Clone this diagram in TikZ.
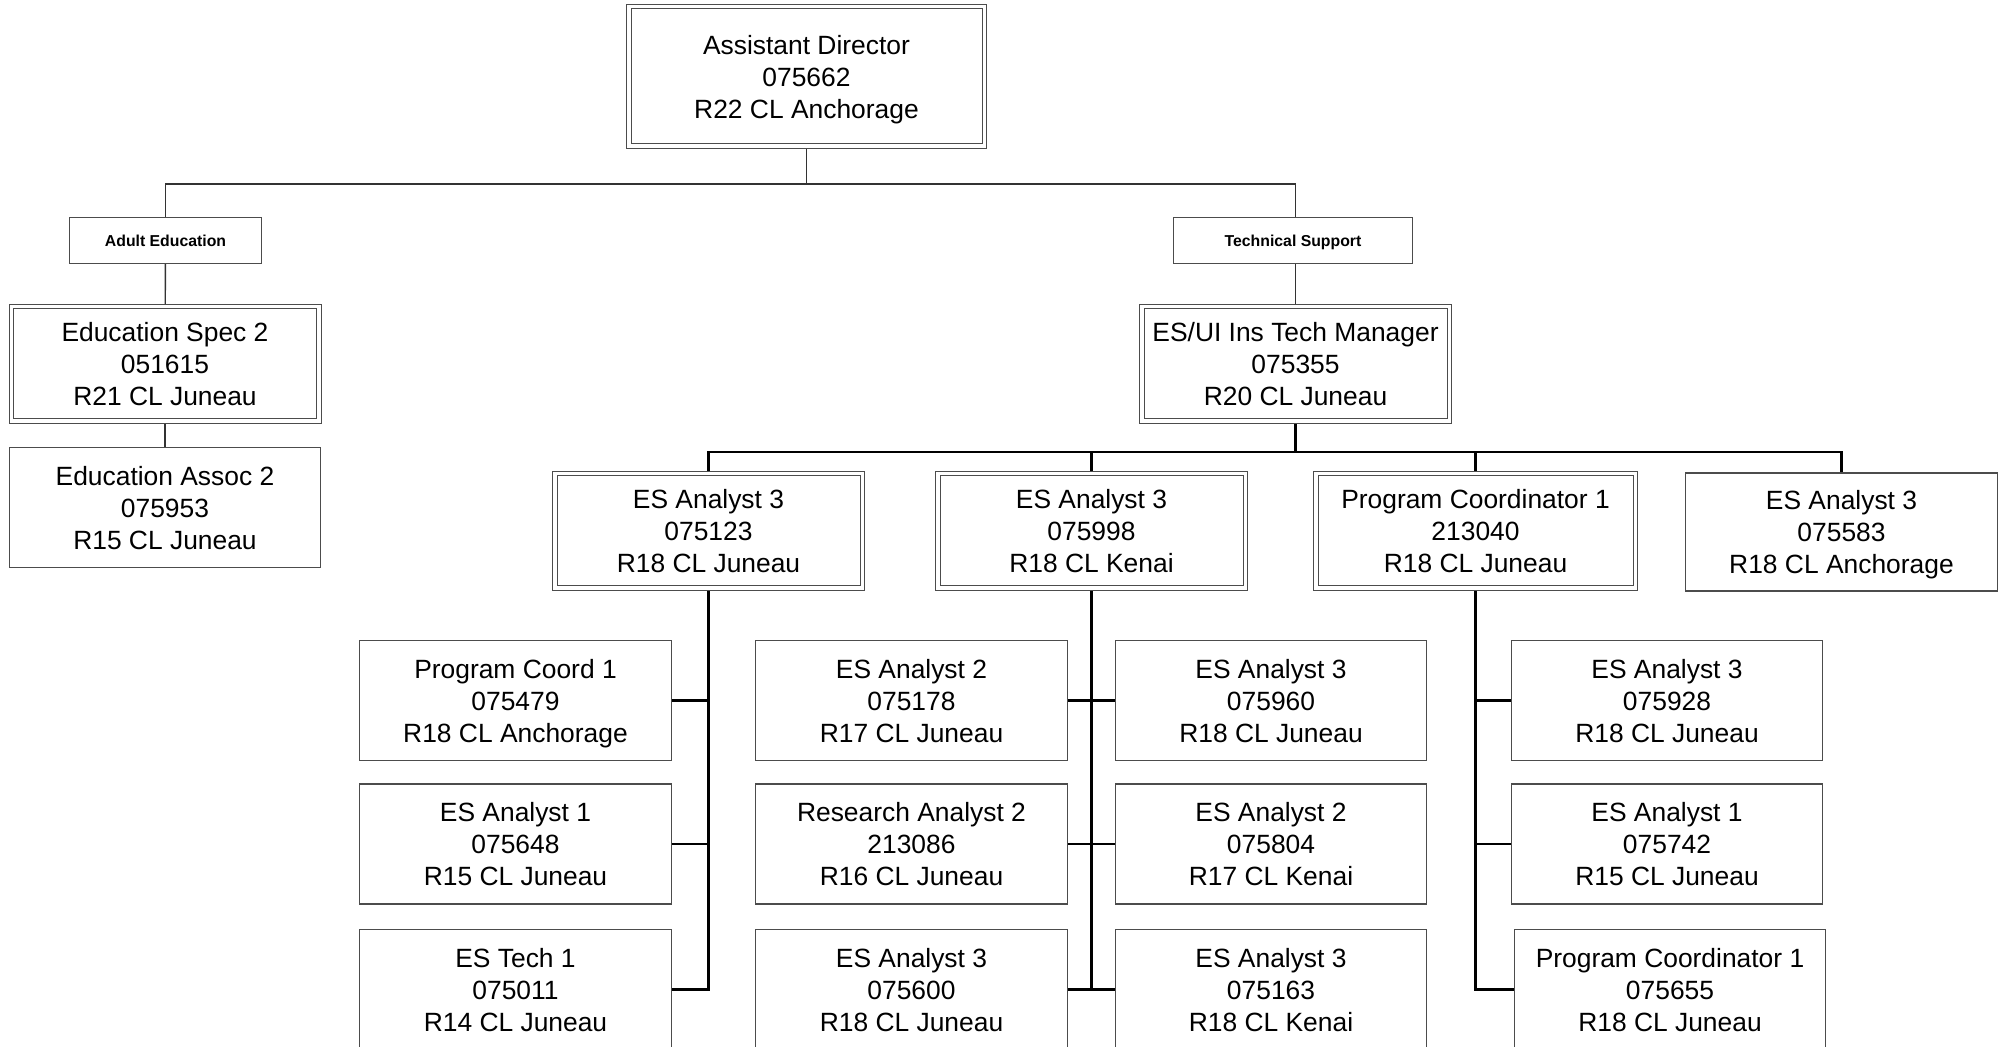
\documentclass[tikz,border=0pt]{standalone}
\usepackage{fontspec}
\setmainfont{Liberation Sans}
\usetikzlibrary{backgrounds}
\begin{document}
\begin{tikzpicture}[x=0.5pt,y=-0.5pt,
  box/.style={draw=black!70, line width=0.6pt, fill=white, inner sep=0pt, align=center,
    font=\fontsize{13.2pt}{16pt}\selectfont, minimum width=155.75pt, minimum height=60pt,
    text depth=0pt},
  dbox/.style={box, line width=0.5pt, double=white, double distance=1.75pt,
    minimum width=153.75pt, minimum height=57.25pt},
  sbox/.style={box, font=\fontsize{7.9pt}{9.5pt}\selectfont\bfseries, minimum width=96pt, minimum height=23pt,
    text height=5.66pt, text depth=0pt},
  thin/.style={draw=black!80, line width=0.7pt},
  bus/.style={draw=black, line width=1.3pt},
  grp/.style={draw=black, line width=1.1pt}]
\useasboundingbox (0,0) rectangle (2003,1047);
\clip (0,0) rectangle (2003,1047);

% level 0
\node[dbox, minimum width=177.75pt, minimum height=69.75pt] (top) at (806.5,76.5) {Assistant Director\\075662\\R22 CL Anchorage};
% units
\node[sbox] (adult) at (165.5,240.5) {Adult Education};
\node[sbox, minimum width=119.5pt] (tech) at (1293,240.5) {Technical Support};
% adult education branch
\node[dbox] (spec) at (165,364) {Education Spec 2\\051615\\R21 CL Juneau};
\node[box] (assoc) at (165,507.5) {Education Assoc 2\\075953\\R15 CL Juneau};
% technical support branch
\node[dbox] (esui) at (1295.5,364) {ES/UI Ins Tech Manager\\075355\\R20 CL Juneau};
\node[dbox] (A) at (708.5,531) {ES Analyst 3\\075123\\R18 CL Juneau};
\node[dbox] (K) at (1091.5,531) {ES Analyst 3\\075998\\R18 CL Kenai};
\node[dbox, minimum width=159.75pt] (P) at (1475.5,531) {Program Coordinator 1\\213040\\R18 CL Juneau};
\node[box, minimum height=59pt] (Q) at (1841.5,532) {ES Analyst 3\\075583\\R18 CL Anchorage};
% children of A
\node[box] (L1) at (515.5,700.5) {Program Coord 1\\075479\\R18 CL Anchorage};
\node[box] (L2) at (515.5,844) {ES Analyst 1\\075648\\R15 CL Juneau};
\node[box] (L3) at (515.5,989.5) {ES Tech 1\\075011\\R14 CL Juneau};
% children of K
\node[box] (ML1) at (911.5,700.5) {ES Analyst 2\\075178\\R17 CL Juneau};
\node[box] (ML2) at (911.5,844) {Research Analyst 2\\213086\\R16 CL Juneau};
\node[box] (ML3) at (911.5,989.5) {ES Analyst 3\\075600\\R18 CL Juneau};
\node[box] (MR1) at (1271,700.5) {ES Analyst 3\\075960\\R18 CL Juneau};
\node[box] (MR2) at (1271,844) {ES Analyst 2\\075804\\R17 CL Kenai};
\node[box] (MR3) at (1271,989.5) {ES Analyst 3\\075163\\R18 CL Kenai};
% children of P
\node[box] (R1) at (1667,700.5) {ES Analyst 3\\075928\\R18 CL Juneau};
\node[box] (R2) at (1667,844) {ES Analyst 1\\075742\\R15 CL Juneau};
\node[box] (R3) at (1670,989.5) {Program Coordinator 1\\075655\\R18 CL Juneau};

\coordinate (b0) at (806.5,184);
\coordinate (b1) at (1295.5,452);

\begin{scope}[on background layer]
  \draw[thin] (top) -- (b0);
  \draw[thin] (adult.north) |- (b0) -| (esui.north |- tech.north);
  \draw[thin] (adult) -- (spec);
  \draw[thin] (spec) -- (assoc);
  \draw[thin] (esui.north) -- (esui.north |- tech.south);
  \draw[bus] (esui) -- (b1);
  \draw[bus] (A.north) |- (b1) -| (Q.north);
  \draw[bus] (K.north) -- (K.north |- b1);
  \draw[bus] (P.north) -- (P.north |- b1);
  % group A
  \draw[grp] (L3.east) -| (A.south);
  \draw[grp] (L1.east) -- (L1.east -| A.south);
  \draw[grp] (L2.east) -- (L2.east -| A.south);
  % group K
  \draw[grp] (K.south) -- (K.south |- ML3.east);
  \draw[grp] (ML1.east) -- (MR1.west);
  \draw[grp] (ML2.east) -- (MR2.west);
  \draw[grp] (ML3.east) -- (MR3.west);
  % group P
  \draw[grp] (R3.west) -| (P.south);
  \draw[grp] (R1.west) -- (R1.west -| P.south);
  \draw[grp] (R2.west) -- (R2.west -| P.south);
\end{scope}
\end{tikzpicture}
\end{document}
